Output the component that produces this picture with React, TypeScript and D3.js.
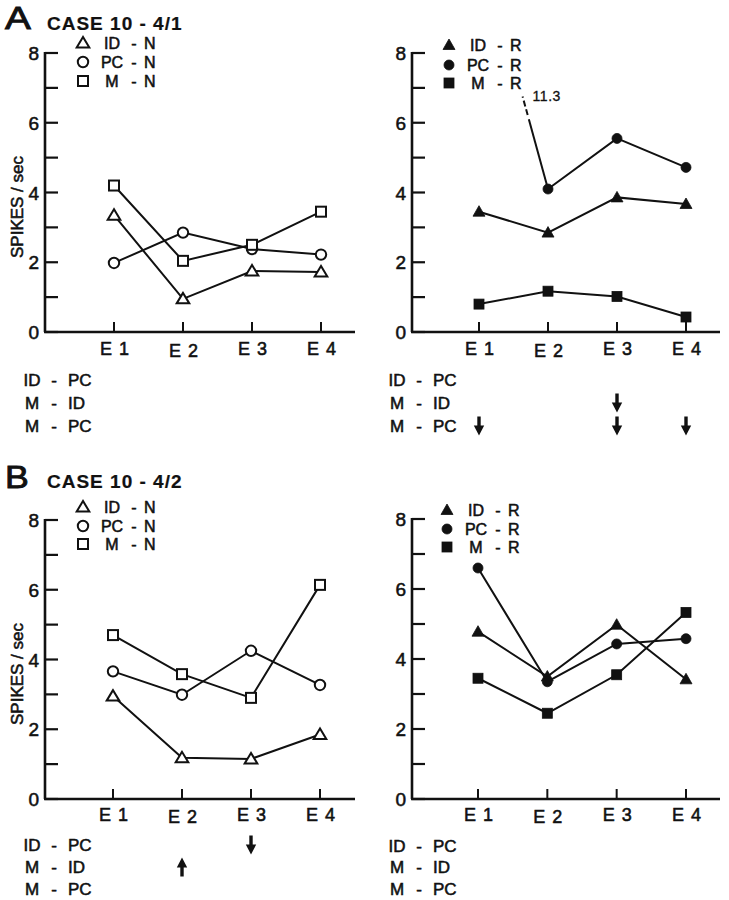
import React from "react";
import * as d3 from "d3";

// ---------- data ----------
const categories = ["E 1", "E 2", "E 3", "E 4"];
const yTickValues = [0, 1, 2, 3, 4, 5, 6, 7, 8];
const yTickLabels = [0, 2, 4, 6, 8];
const comparisonRows = [
  ["ID", "PC"],
  ["M", "ID"],
  ["M", "PC"],
];

// Case 10 - 4/1 (A)
const caseA_ID_N = [3.35, 0.95, 1.75, 1.72];
const caseA_PC_N = [1.98, 2.85, 2.38, 2.22];
const caseA_M_N = [4.2, 2.04, 2.5, 3.45];
const caseA_ID_R = [3.45, 2.85, 3.86, 3.67];
const caseA_PC_R = [11.3, 4.1, 5.55, 4.72];
const caseA_M_R = [0.8, 1.17, 1.02, 0.43];

// Case 10 - 4/2 (B)
const caseB_ID_N = [2.95, 1.18, 1.15, 1.85];
const caseB_PC_N = [3.66, 2.99, 4.25, 3.27];
const caseB_M_N = [4.7, 3.58, 2.9, 6.14];
const caseB_ID_R = [4.78, 3.5, 4.98, 3.42];
const caseB_PC_R = [6.6, 3.35, 4.43, 4.58];
const caseB_M_R = [3.45, 2.45, 3.55, 5.33];

// significance arrows: row index (comparisonRows), category index, direction
const arrowsA_N: { row: number; cat: number; dir: string }[] = [];
const arrowsA_R = [
  { row: 2, cat: 0, dir: "down" },
  { row: 1, cat: 2, dir: "down" },
  { row: 2, cat: 2, dir: "down" },
  { row: 2, cat: 3, dir: "down" },
];
const arrowsB_N = [
  { row: 0, cat: 2, dir: "down" },
  { row: 1, cat: 1, dir: "up" },
];
const arrowsB_R: { row: number; cat: number; dir: string }[] = [];

// ---------- style ----------
const FONT = "'Liberation Sans', Arial, Helvetica, sans-serif";
const INK = "#111";
const TS = { fontFamily: FONT, fill: INK, stroke: INK, strokeWidth: 0.55 } as const;

type Shape = "tri" | "circle" | "square";

function Marker({ shape, filled, x, y }: { shape: Shape; filled: boolean; x: number; y: number }) {
  const fill = filled ? INK : "#fff";
  const sw = filled ? 0.8 : 2;
  if (shape === "tri") {
    const w = filled ? 6 : 6.3;
    const p = [
      [x, y - 6],
      [x - w, y + 4.5],
      [x + w, y + 4.5],
    ];
    return <polygon points={p.map((q) => q.join(",")).join(" ")} fill={fill} stroke={INK} strokeWidth={sw} strokeLinejoin="miter" />;
  }
  if (shape === "circle") {
    return <circle cx={x} cy={y} r={filled ? 5 : 5.2} fill={fill} stroke={INK} strokeWidth={sw} />;
  }
  const s = 10;
  return <rect x={x - s / 2} y={y - s / 2} width={s} height={s} fill={fill} stroke={INK} strokeWidth={sw} />;
}

function Arrow({ x, y, dir }: { x: number; y: number; dir: string }) {
  const L = 19;
  const head = 10;
  const hw = 5.2;
  const sh = 1.7;
  const s = dir === "down" ? 1 : -1;
  const top = y - (s * L) / 2;
  const tip = y + (s * L) / 2;
  const hb = tip - s * head;
  const d = `M${x - sh},${top} L${x + sh},${top} L${x + sh},${hb} L${x + hw},${hb} L${x},${tip} L${x - hw},${hb} L${x - sh},${hb} Z`;
  return <path d={d} fill={INK} />;
}

type Series = { name: string; values: number[]; shape: Shape; filled: boolean };

type Geo = {
  axisX: number;
  yTop: number;
  y0: number;
  xEnd: number;
  cat0: number;
  cat3: number;
  eBase: number;
  rowBase: number[];
  compX: number;
  legendX: number;
  legendBase: number[];
};

function Panel({
  geo,
  series,
  suffix,
  arrows,
  yLabel,
}: {
  geo: Geo;
  series: Series[];
  suffix: string;
  arrows: { row: number; cat: number; dir: string }[];
  yLabel: boolean;
}) {
  const y = d3.scaleLinear().domain([0, 8]).range([geo.y0, geo.yTop]);
  const x = d3.scalePoint<string>().domain(categories).range([geo.cat0, geo.cat3]);
  const lineGen = d3
    .line<[number, number]>()
    .x((d) => d[0])
    .y((d) => d[1]);

  const parts: React.ReactNode[] = [];

  series.forEach((s, si) => {
    const inside: [number, number][] = [];
    s.values.forEach((v, i) => {
      if (v <= 8) inside.push([x(categories[i])!, y(v)]);
    });
    parts.push(<path key={`l${si}`} d={lineGen(inside) || ""} fill="none" stroke={INK} strokeWidth={2} />);
    // off-scale values: line heading toward the point, broken, with value label
    s.values.forEach((v, i) => {
      if (v > 8) {
        const j = i + 1 < s.values.length && s.values[i + 1] <= 8 ? i + 1 : i - 1;
        const x1 = x(categories[j])!;
        const v1 = s.values[j];
        const x2 = x(categories[i])!;
        const at = (val: number) => x1 + ((x2 - x1) * (val - v1)) / (v - v1);
        const solidEnd = 6.1;
        const dashEnd = 6.75;
        parts.push(
          <line key={`os${si}${i}`} x1={x1} y1={y(v1)} x2={at(solidEnd)} y2={y(solidEnd)} stroke={INK} strokeWidth={2} />
        );
        parts.push(
          <line
            key={`od${si}${i}`}
            x1={at(solidEnd + 0.12)}
            y1={y(solidEnd + 0.12)}
            x2={at(dashEnd)}
            y2={y(dashEnd)}
            stroke={INK}
            strokeWidth={2}
            strokeDasharray="6,3"
          />
        );
        parts.push(
          <text key={`ot${si}${i}`} x={at(dashEnd) + 10} y={y(dashEnd) + 4} fontSize={14} {...TS} strokeWidth={0.3} letterSpacing={0.5}>
            {String(v)}
          </text>
        );
      }
    });
  });

  series.forEach((s, si) => {
    s.values.forEach((v, i) => {
      if (v <= 8) parts.push(<Marker key={`m${si}${i}`} shape={s.shape} filled={s.filled} x={x(categories[i])!} y={y(v)} />);
    });
  });

  return (
    <g>
      {/* axes */}
      <line x1={geo.axisX} y1={geo.yTop - 1} x2={geo.axisX} y2={geo.y0} stroke={INK} strokeWidth={2.6} />
      <line x1={geo.axisX - 1} y1={geo.y0} x2={geo.xEnd} y2={geo.y0} stroke={INK} strokeWidth={2.6} />
      {yTickValues.map((t) => (
        <line key={`yt${t}`} x1={geo.axisX} x2={geo.axisX + 13} y1={y(t)} y2={y(t)} stroke={INK} strokeWidth={2.2} />
      ))}
      {yTickLabels.map((t) => (
        <text key={`yl${t}`} x={geo.axisX - 6} y={y(t) + 7} textAnchor="end" fontSize={19} {...TS}>
          {t}
        </text>
      ))}
      {categories.map((c, i) => (
        <g key={`xc${c}`}>
          <line x1={x(c)} x2={x(c)} y1={geo.y0} y2={geo.y0 - 10} stroke={INK} strokeWidth={2} />
          <text
            x={x(c)! + 1}
            y={geo.eBase + (i === 1 ? 2 : 0)}
            textAnchor="middle"
            fontSize={18}
            {...TS}
            letterSpacing={1}
          >
            {c}
          </text>
        </g>
      ))}
      {yLabel && (
        <text
          transform={`translate(${geo.axisX - 22},${geo.y0 - 125}) rotate(-90)`}
          textAnchor="middle"
          fontSize={17}
          {...TS}
        >
          SPIKES / sec
        </text>
      )}
      {/* legend */}
      {series.map((s, si) => (
        <g key={`lg${si}`}>
          <Marker shape={s.shape} filled={s.filled} x={geo.legendX} y={geo.legendBase[si] - 6} />
          <text x={geo.legendX + 29} y={geo.legendBase[si]} textAnchor="middle" fontSize={16} {...TS}>
            {s.name}
          </text>
          <text x={geo.legendX + 51} y={geo.legendBase[si]} textAnchor="middle" fontSize={16} {...TS}>
            -
          </text>
          <text x={geo.legendX + 61} y={geo.legendBase[si]} textAnchor="start" fontSize={16} {...TS}>
            {suffix}
          </text>
        </g>
      ))}
      {parts}
      {/* comparison rows */}
      {comparisonRows.map((r, ri) => (
        <g key={`cr${ri}`}>
          <text x={geo.compX} y={geo.rowBase[ri]} textAnchor="middle" fontSize={17} {...TS}>
            {r[0]}
          </text>
          <text x={geo.compX + 22} y={geo.rowBase[ri]} textAnchor="middle" fontSize={17} {...TS}>
            -
          </text>
          <text x={geo.compX + 36} y={geo.rowBase[ri]} textAnchor="start" fontSize={17} {...TS}>
            {r[1]}
          </text>
        </g>
      ))}
      {arrows.map((a, ai) => (
        <Arrow key={`ar${ai}`} x={x(categories[a.cat])!} y={geo.rowBase[a.row] - 6} dir={a.dir} />
      ))}
    </g>
  );
}

const geoAL: Geo = {
  axisX: 45, yTop: 53, y0: 332, xEnd: 355, cat0: 114, cat3: 321, eBase: 355,
  rowBase: [386, 409, 432], compX: 32, legendX: 83, legendBase: [49, 68, 87],
};
const geoAR: Geo = {
  axisX: 412, yTop: 53, y0: 332, xEnd: 720, cat0: 479, cat3: 686, eBase: 355,
  rowBase: [386, 409, 432], compX: 397, legendX: 449, legendBase: [51, 71, 89],
};
const geoBL: Geo = {
  axisX: 45, yTop: 520, y0: 799, xEnd: 355, cat0: 113, cat3: 320, eBase: 821,
  rowBase: [851, 873, 895], compX: 32, legendX: 83, legendBase: [513, 532, 550],
};
const geoBR: Geo = {
  axisX: 412, yTop: 519, y0: 799, xEnd: 720, cat0: 478, cat3: 686, eBase: 821,
  rowBase: [852, 873, 895], compX: 397, legendX: 447, legendBase: [516, 535, 553],
};

export default function App() {
  return (
    <svg
      width={729}
      height={900}
      viewBox="0 0 729 900"
      style={{ position: "absolute", left: 0, top: 0, background: "#fff" }}
    >
      <rect width={729} height={900} fill="#fff" />
      <text x={5} y={29} fontSize={31} {...TS} strokeWidth={0.9} transform="translate(5,29) scale(1.25,1) translate(-5,-29)">
        A
      </text>
      <text x={47} y={30} fontSize={19} fontWeight="bold" {...TS} strokeWidth={0.2} letterSpacing={1}>
        CASE 10 - 4/1
      </text>
      <text x={5} y={488} fontSize={31} {...TS} strokeWidth={0.9} transform="translate(5,488) scale(1.15,1) translate(-5,-488)">
        B
      </text>
      <text x={47} y={488} fontSize={19} fontWeight="bold" {...TS} strokeWidth={0.2} letterSpacing={1}>
        CASE 10 - 4/2
      </text>
      <Panel
        geo={geoAL}
        suffix="N"
        yLabel
        arrows={arrowsA_N}
        series={[
          { name: "ID", values: caseA_ID_N, shape: "tri", filled: false },
          { name: "PC", values: caseA_PC_N, shape: "circle", filled: false },
          { name: "M", values: caseA_M_N, shape: "square", filled: false },
        ]}
      />
      <Panel
        geo={geoAR}
        suffix="R"
        yLabel={false}
        arrows={arrowsA_R}
        series={[
          { name: "ID", values: caseA_ID_R, shape: "tri", filled: true },
          { name: "PC", values: caseA_PC_R, shape: "circle", filled: true },
          { name: "M", values: caseA_M_R, shape: "square", filled: true },
        ]}
      />
      <Panel
        geo={geoBL}
        suffix="N"
        yLabel
        arrows={arrowsB_N}
        series={[
          { name: "ID", values: caseB_ID_N, shape: "tri", filled: false },
          { name: "PC", values: caseB_PC_N, shape: "circle", filled: false },
          { name: "M", values: caseB_M_N, shape: "square", filled: false },
        ]}
      />
      <Panel
        geo={geoBR}
        suffix="R"
        yLabel={false}
        arrows={arrowsB_R}
        series={[
          { name: "ID", values: caseB_ID_R, shape: "tri", filled: true },
          { name: "PC", values: caseB_PC_R, shape: "circle", filled: true },
          { name: "M", values: caseB_M_R, shape: "square", filled: true },
        ]}
      />
    </svg>
  );
}
